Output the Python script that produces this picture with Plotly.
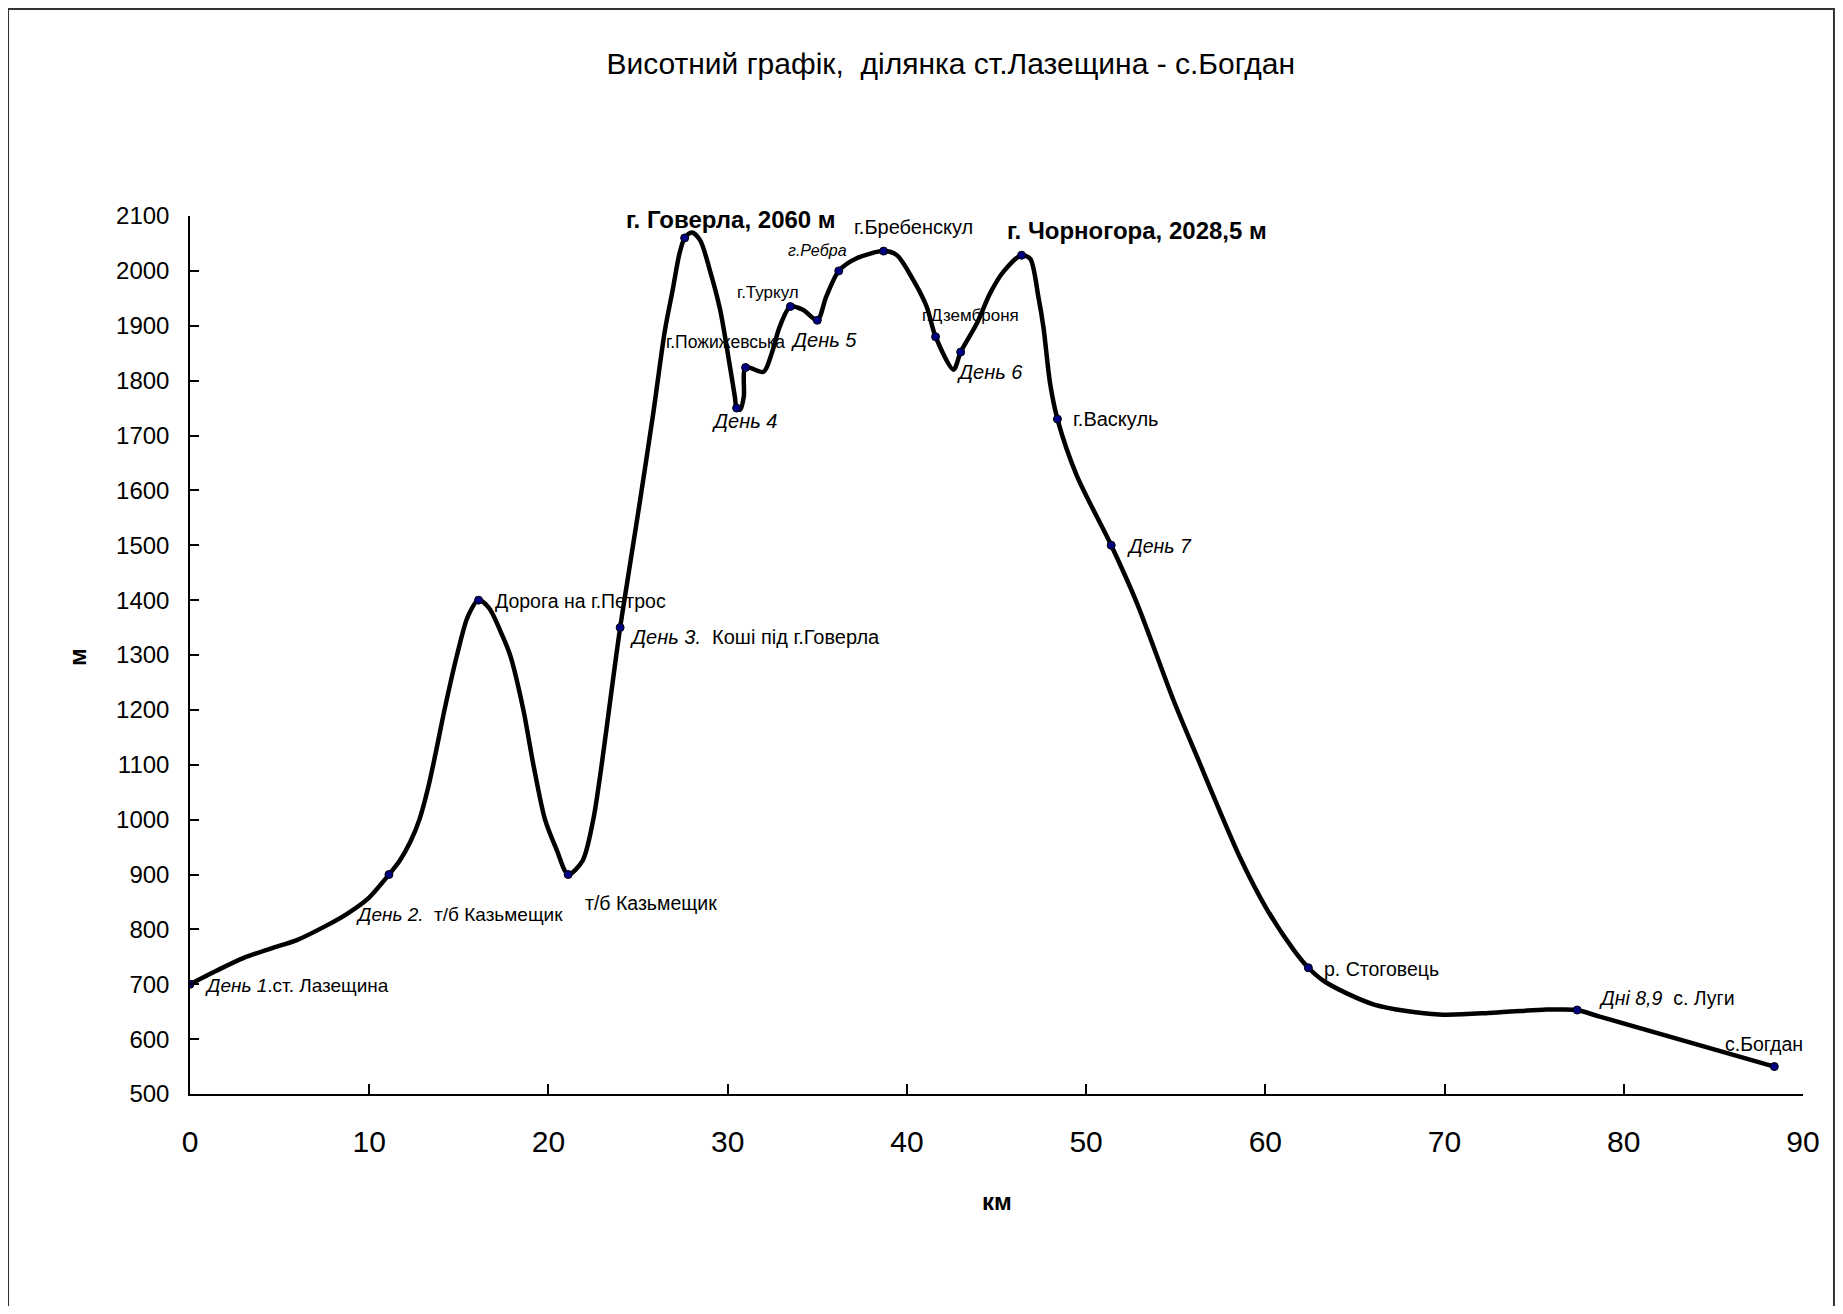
import plotly.graph_objects as go

# ---- data ----
profile_km = [0.0, 1.5, 3.0, 4.5, 6.0, 7.5, 8.7, 9.9, 11.1, 11.7, 12.3, 12.8, 13.3, 13.7,
              14.2, 14.9, 15.5, 16.1, 16.7, 17.3, 17.86, 18.6, 19.16, 19.81, 20.46, 21.1,
              21.9, 22.5, 22.97, 23.5, 24.0, 25.0, 25.85, 26.5, 26.93, 27.3, 27.6, 28.0,
              28.46, 29.0, 29.58, 30.13, 30.4, 30.5, 30.7, 30.9, 31.0, 32.0, 32.46, 32.9,
              33.5, 34.2, 35.0, 35.5, 36.2, 37.2, 38.7, 39.43, 40.36, 41.1, 41.6, 42.6,
              43.0, 43.9, 44.64, 45.4, 46.4, 46.88, 47.34, 47.62, 47.99, 48.4, 49.48, 51.4,
              52.83, 54.87, 56.17, 58.6, 60.08, 61.57, 62.4, 63.3, 66.07, 69.7, 72.7,
              75.67, 76.5, 77.4, 78.66, 88.4]
profile_m = [700, 725, 748, 765, 781, 805, 827, 855, 900, 925, 960, 1000, 1060, 1120,
             1200, 1300, 1370, 1400, 1385, 1345, 1300, 1200, 1100, 1000, 945, 900,
             925, 1000, 1100, 1230, 1350, 1558, 1741, 1892, 1965, 2030, 2060, 2070,
             2056, 2002, 1929, 1825, 1771, 1750, 1747, 1771, 1824, 1816, 1850, 1898,
             1935, 1929, 1910, 1953, 2000, 2023, 2036, 2029, 1983, 1935, 1880, 1820,
             1852, 1904, 1959, 1999, 2028.5, 2022, 1952, 1897, 1795, 1730, 1627, 1500,
             1395, 1218, 1116, 930, 837, 763, 730, 705, 663, 645, 648,
             654, 654, 653, 641, 550]

point_km = [0.0, 11.1, 16.1, 21.1, 24.0, 27.6, 30.5, 31.0, 33.5, 35.0, 36.2, 38.7,
            41.6, 43.0, 46.4, 48.4, 51.4, 62.4, 77.4, 88.4]
point_m = [700, 900, 1400, 900, 1350, 2060, 1750, 1824, 1935, 1910, 2000, 2036,
           1880, 1852, 2028.5, 1730, 1500, 730, 653, 550]
point_labels = [
    "<i>День 1</i>.ст. Лазещина",
    "<i>День 2.</i>\u00a0 т/б Казьмещик",
    "Дорога на г.Петрос",
    "т/б Казьмещик",
    "<i>День 3.</i>\u00a0 Коші під г.Говерла",
    "<b>г. Говерла, 2060 м</b>",
    "<i>День 4</i>",
    "г.Пожижевська",
    "г.Туркул",
    "<i>День 5</i>",
    "<i>г.Ребра</i>",
    "г.Бребенскул",
    "г.Дземброня",
    "<i>День 6</i>",
    "<b>г. Чорногора, 2028,5 м</b>",
    "г.Васкуль",
    "<i>День 7</i>",
    "р. Стоговець",
    "<i>Дні 8,9</i>\u00a0 с. Луги",
    "с.Богдан",
]

x_ticks = [0, 10, 20, 30, 40, 50, 60, 70, 80, 90]
y_ticks = [500, 600, 700, 800, 900, 1000, 1100, 1200, 1300, 1400, 1500, 1600, 1700,
           1800, 1900, 2000, 2100]

title_text = "Висотний графік,\u00a0 ділянка ст.Лазещина - с.Богдан"
x_title = "км"
y_title = "м"

# ---- label placement (anchor, xshift, yshift, font size) ----
label_style = [
    ("left", 13, -1, 19), ("left", -35, -40, 19), ("left", 14, -1, 19.5),
    ("left", 15, -28, 19.5), ("left", 8, -9, 20), ("center", 46, 18, 24),
    ("center", 8, -13, 20), ("center", -20, 25, 17.5), ("center", -22, 14, 17),
    ("center", 7, -20, 20), ("center", -21, 20, 16), ("center", 30, 24, 20),
    ("center", 35, 21, 17), ("center", 29, -20, 20), ("left", -17, 25, 24),
    ("left", 14, 0, 20), ("left", 14, -1, 19.5), ("left", 14, -1, 19.5),
    ("left", 20, 12, 19.5), ("center", -10, 23, 19.5),
]

FONT = "Liberation Sans, Arial, sans-serif"

fig = go.Figure()
fig.add_trace(go.Scatter(
    x=profile_km, y=profile_m, mode="lines",
    line=dict(color="black", width=4.5, shape="spline", smoothing=0.8, simplify=False),
    hoverinfo="skip", showlegend=False,
))
fig.add_trace(go.Scatter(
    x=point_km, y=point_m, mode="markers",
    marker=dict(color="#000080", size=8, line=dict(color="black", width=1)),
    text=point_labels, showlegend=False,
))

annotations = []
for x, y, t, (anc, dx, dy, fs) in zip(point_km, point_m, point_labels, label_style):
    annotations.append(dict(
        x=x, y=y, xref="x", yref="y", text=t, showarrow=False,
        xanchor=anc, yanchor="middle", xshift=dx, yshift=dy,
        font=dict(family=FONT, size=fs, color="black"),
    ))

# axis titles
annotations.append(dict(
    x=0.5, y=-0.1219, xref="paper", yref="paper", text="<b>%s</b>" % x_title,
    showarrow=False, xanchor="center", yanchor="middle",
    font=dict(family=FONT, size=24, color="black"),
))
annotations.append(dict(
    x=-0.0701, y=0.4977, xref="paper", yref="paper", text="<b>%s</b>" % y_title,
    showarrow=False, xanchor="center", yanchor="middle", textangle=-90,
    font=dict(family=FONT, size=24, color="black"),
))

fig.update_layout(
    width=1827, height=1298,
    margin=dict(l=182, r=32, t=208, b=212),
    paper_bgcolor="white", plot_bgcolor="white",
    title=dict(text=title_text, x=0.516, y=0.957, xref="container", yref="container",
               xanchor="center", yanchor="middle",
               font=dict(family=FONT, size=30, color="black")),
    xaxis=dict(range=[0, 90], tickvals=x_ticks, showgrid=False, zeroline=False,
               showline=True, linecolor="black", linewidth=1.5,
               ticks="inside", ticklen=10, tickwidth=1.5, tickcolor="black",
               ticklabelstandoff=20,
               tickfont=dict(family=FONT, size=30, color="black")),
    yaxis=dict(range=[500, 2100], tickvals=y_ticks, showgrid=False, zeroline=False,
               showline=True, linecolor="black", linewidth=1.5,
               ticks="inside", ticklen=9, tickwidth=1.5, tickcolor="black",
               ticklabelstandoff=14,
               tickfont=dict(family=FONT, size=24, color="black")),
    annotations=annotations,
    shapes=[dict(type="rect", xref="paper", yref="paper",
                 x0=-0.1128, x1=1.0192, y0=-0.26, y1=1.2358,
                 line=dict(color="#333333", width=2), fillcolor="rgba(0,0,0,0)",
                 layer="below")],
)

fig.write_html("out.html")
